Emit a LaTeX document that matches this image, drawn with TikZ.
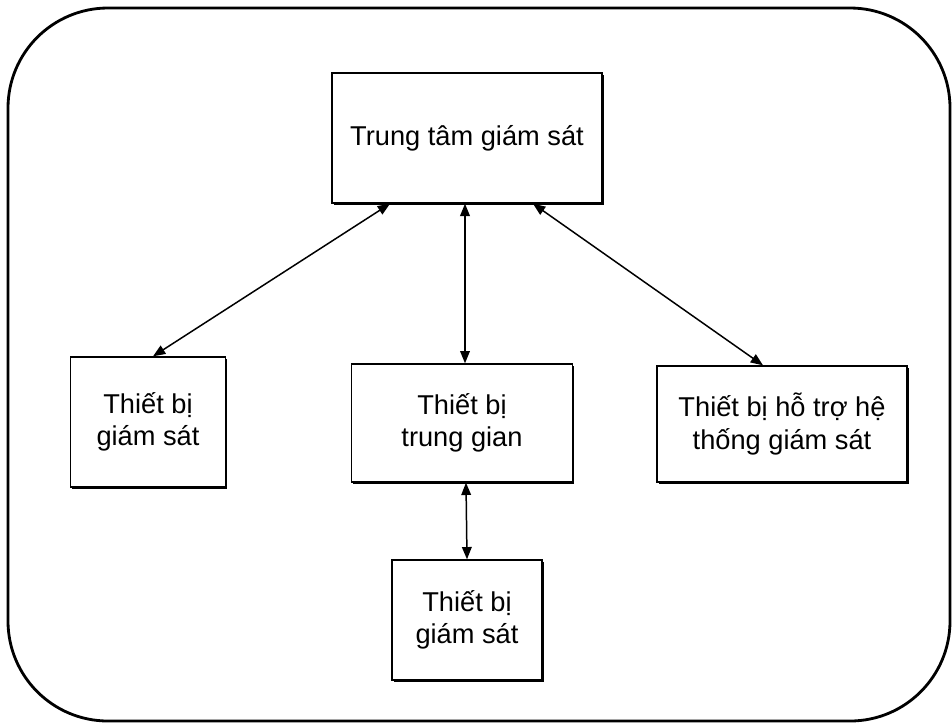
\documentclass[tikz,border=0pt]{standalone}
\usepackage{fontspec}
\setmainfont{Liberation Sans}
\usepackage{tikz}
\usetikzlibrary{positioning, arrows.meta, calc, shadows}
\tikzset{
  khung/.style={rectangle, rounded corners=2cm, line width=1.6pt, draw=black},
  hop/.style={rectangle, draw=black, line width=0.8pt, fill=white, inner sep=0pt, align=center,
    font=\fontsize{15.5}{18.5}\selectfont,
    drop shadow={shadow xshift=0.9pt, shadow yshift=-0.9pt, fill=black, opacity=1}},
  noi/.style={line width=0.85pt, <->, >={Triangle[length=7pt, width=5.5pt]}}
}

\begin{document}
\begin{tikzpicture}[x=0.02cm, y=-0.02cm]

  \useasboundingbox (0,0) rectangle (952,725);

  % 1. Khung ngoai
  \draw[khung] (8,8) rectangle (950,721);

  % 2. Cac khoi
  \node[hop, minimum width=5.4cm, minimum height=2.6cm] (tt) at (467,138) {Trung tâm giám sát};
  \node[hop, minimum width=3.1cm, minimum height=2.6cm] (tbgs) at (148,422) {Thiết bị\\giám sát};
  \node[hop, minimum width=4.42cm, minimum height=2.36cm] (tbtg) at (462,423) {Thiết bị\\trung gian};
  \node[hop, minimum width=5.0cm, minimum height=2.32cm] (tbht) at (782,424) {Thiết bị hỗ trợ hệ\\thống giám sát};
  \node[hop, minimum width=3.0cm, minimum height=2.4cm] (tbgs2) at (467,620) {Thiết bị\\giám sát};

  % 3. Ket noi hai chieu
  \draw[noi] ($(tt.south)+(-77,0)$) -- ($(tbgs.north)+(5,0)$);
  \draw[noi] ($(tt.south)+(-2,0)$) -- ($(tbtg.north)+(3,0)$);
  \draw[noi] ($(tt.south)+(66,0)$) -- ($(tbht.north)+(-19,0)$);
  \draw[noi] ($(tbtg.south)+(4,0)$) -- (tbgs2.north);

\end{tikzpicture}
\end{document}
